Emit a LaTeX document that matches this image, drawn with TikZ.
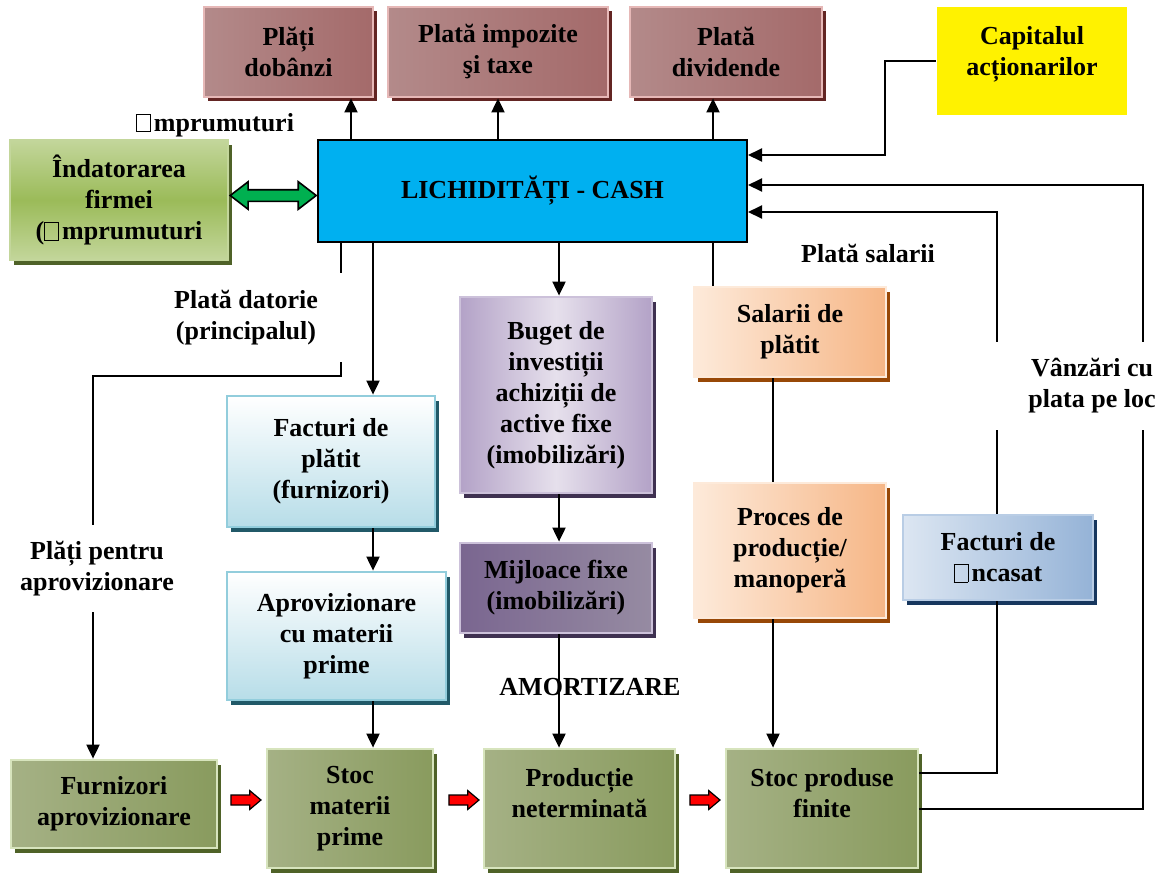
\documentclass[tikz,border=0pt]{standalone}
\usepackage{fontspec}
\setmainfont{Liberation Serif}
\usetikzlibrary{arrows.meta,positioning,calc,shadows,shapes.arrows}

\definecolor{payfill}{HTML}{A46A6A}
\definecolor{paylight}{HTML}{B38A8A}
\definecolor{payedge}{HTML}{E6B8B7}
\definecolor{payshadow}{HTML}{632523}
\definecolor{cashblue}{HTML}{00B0F0}
\definecolor{debtgreen}{HTML}{9BBB59}
\definecolor{debtlight}{HTML}{C3D69B}
\definecolor{greenshadow}{HTML}{4F6228}
\definecolor{stockdark}{HTML}{899B5E}
\definecolor{stocklight}{HTML}{A5B185}
\definecolor{stockedge}{HTML}{D7E4BD}
\definecolor{billblue}{HTML}{B7DDE8}
\definecolor{billedge}{HTML}{92CDDC}
\definecolor{billshadow}{HTML}{215968}
\definecolor{budlight}{HTML}{E6E0EC}
\definecolor{buddark}{HTML}{B3A2C7}
\definecolor{budedge}{HTML}{CCC1DA}
\definecolor{budshadow}{HTML}{3F3151}
\definecolor{assetdark}{HTML}{7A6690}
\definecolor{assetlight}{HTML}{968BA2}
\definecolor{wagelight}{HTML}{FDEADA}
\definecolor{wagedark}{HTML}{F6B686}
\definecolor{wageshadow}{HTML}{984807}
\definecolor{recvdark}{HTML}{95B3D7}
\definecolor{recvlight}{HTML}{DCE6F2}
\definecolor{recvedge}{HTML}{B9CDE5}
\definecolor{recvshadow}{HTML}{17375E}
\definecolor{arrowgreen}{HTML}{00B050}

\newcommand{\boxfont}{\fontsize{13}{15.5}\selectfont\bfseries}
\newcommand{\nochar}{{\setlength{\fboxsep}{0pt}\setlength{\fboxrule}{0.45pt}\fbox{\rule{0pt}{0.64em}\hspace{0.5em}}}\hspace{0.12em}}

\tikzset{
  box/.style={align=center,inner sep=1pt,font=\boxfont,line width=1.4pt},
  paybox/.style={box,draw=payedge,left color=paylight,right color=payfill,
    minimum height=45pt,general shadow={fill=payshadow,shadow xshift=2pt,shadow yshift=-2.2pt}},
  capbox/.style={box,fill=yellow,minimum width=95pt,minimum height=54pt},
  cashbox/.style={box,draw=black,line width=1pt,fill=cashblue,minimum width=214.5pt,minimum height=51pt},
  debtbox/.style={box,draw=debtlight,top color=debtlight,bottom color=debtlight,middle color=debtgreen,
    minimum width=109pt,minimum height=60pt,general shadow={fill=greenshadow,shadow xshift=2pt,shadow yshift=-2.5pt}},
  stockbox/.style={box,draw=stockedge,left color=stocklight,right color=stockdark,
    general shadow={fill=greenshadow,shadow xshift=2pt,shadow yshift=-2.5pt}},
  billbox/.style={box,draw=billedge,top color=white,bottom color=billblue,
    general shadow={fill=billshadow,shadow xshift=2pt,shadow yshift=-2.5pt}},
  budbox/.style={box,draw=budedge,left color=buddark,right color=buddark,middle color=budlight,
    general shadow={fill=budshadow,shadow xshift=2pt,shadow yshift=-2.5pt}},
  assetbox/.style={box,draw=budedge,left color=assetdark,right color=assetlight,
    general shadow={fill=budshadow,shadow xshift=2pt,shadow yshift=-2.5pt}},
  wagebox/.style={box,draw=wagelight,left color=wagelight,right color=wagedark,
    general shadow={fill=wageshadow,shadow xshift=2pt,shadow yshift=-2.5pt}},
  recvbox/.style={box,draw=recvedge,left color=recvlight,right color=recvdark,
    general shadow={fill=recvshadow,shadow xshift=2pt,shadow yshift=-2.5pt}},
  lbl/.style={align=center,inner sep=1pt,font=\boxfont},
  line/.style={line width=1pt},
  arr/.style={line,-{Triangle[width=6.5pt,length=7pt]}},
  dblarrow/.style={double arrow,fill=arrowgreen,draw=black,line width=0.8pt,inner xsep=0pt,inner ysep=2.5pt,
    minimum height=43pt,double arrow head extend=4pt,double arrow tip angle=75},
  redarrow/.style={single arrow,fill=red,draw=black,line width=0.6pt,inner xsep=0pt,inner ysep=2.2pt,
    minimum height=15pt,single arrow head extend=2.2pt,single arrow tip angle=80}
}

\begin{document}
\begin{tikzpicture}[x=0.5pt,y=-0.5pt]
  \path[use as bounding box,fill=white] (0,0) rectangle (1165,873);

  % payments on top
  \node[paybox,minimum width=84.5pt] (dob) at (288.5,52) {Plăți\\dobânzi};
  \node[paybox,minimum width=110pt] (imp) at (498,52) {Plată impozite\\şi taxe};
  \node[paybox,minimum width=96pt] (div) at (726,52) {Plată\\dividende};
  \node[capbox] (cap) at (1032,61) {Capitalul\\acționarilor\\[-5pt]\mbox{}};

  % cash and debt
  \node[cashbox] (cash) at (532.5,191) {LICHIDITĂȚI - CASH};
  \node[debtbox] (indat) at (119,200) {Îndatorarea\\firmei\\(\nochar mprumuturi};
  \node[dblarrow] (link) at ($(indat.east)!.5!(cash.west)$) {};

  % middle column boxes
  \node[billbox,minimum width=104pt,minimum height=65.5pt] (factp) at (331,461.5) {Facturi de\\plătit\\(furnizori)};
  \node[billbox,minimum width=109.5pt,minimum height=64pt] (aprov) at (336.5,636) {Aprovizionare\\cu materii\\prime};
  \node[budbox,minimum width=96pt,minimum height=98pt] (buget) at (556,395) {Buget de\\investiții\\achiziții de\\active fixe\\(imobilizări)};
  \node[assetbox,minimum width=96pt,minimum height=45pt] (mijl) at (556,588) {Mijloace fixe\\(imobilizări)};
  \node[wagebox,minimum width=96pt,minimum height=45pt] (sal) at (790,332) {Salarii de\\plătit};
  \node[wagebox,minimum width=96pt,minimum height=67.5pt] (proc) at (790,550.5) {Proces de\\producție/\\manoperă};
  \node[recvbox,minimum width=95pt,minimum height=42.5pt] (factinc) at (998,557.5) {Facturi de\\\nochar ncasat};

  % stocks at the bottom
  \node[stockbox,minimum width=103pt,minimum height=44pt] (furn) at (114,804) {Furnizori\\aprovizionare};
  \node[stockbox,minimum width=83pt,minimum height=59.5pt] (stocmp) at (350,808.5) {Stoc\\materii\\prime};
  \node[stockbox,minimum width=95.5pt,minimum height=59.5pt] (prod) at (579.5,808.5) {Producție\\neterminată\\\mbox{}};
  \node[stockbox,minimum width=96pt,minimum height=59.5pt] (stocfin) at (822,808.5) {Stoc produse\\finite\\\mbox{}};
  \node[redarrow] (ra1) at (243,800) {};
  \node[redarrow] (ra2) at (461,800) {};
  \node[redarrow] (ra3) at (702,800) {};

  % connectors
  \coordinate (xdob) at (351,0);
  \coordinate (xdiv) at (713,0);
  \coordinate (xbill) at (373,0);
  \coordinate (xinv) at (559,0);
  \coordinate (xwork) at (773,0);
  \coordinate (kcap) at (885,155);
  \coordinate (ksale) at (1143,185);
  \coordinate (krecv) at (997,212);
  \coordinate (kfin) at (997,773);
  \coordinate (kdebt) at (341,376);
  \coordinate (ksupp) at (93,376);

  \draw[arr] (cash.north -| xdob) -- (dob.south -| xdob);
  \draw[arr] (cash.north -| imp.south) -- (imp.south);
  \draw[arr] (cash.north -| xdiv) -- (div.south -| xdiv);
  \draw[arr] (cap.west) -| (kcap) -- (kcap -| cash.east);
  \draw[arr] (stocfin.east) -| (ksale) -- (ksale -| cash.east);
  \draw[line] (stocfin.east |- kfin) -- (kfin) -- (factinc.south -| kfin);
  \draw[arr] (factinc.north -| krecv) -- (krecv) -- (krecv -| cash.east);
  \draw[line] (cash.south -| xdiv) -- (sal.north -| xdiv);
  \draw[line] (sal.south -| xwork) -- (proc.north -| xwork);
  \draw[arr] (proc.south -| xwork) -- (stocfin.north -| xwork);
  \draw[arr] (cash.south -| xinv) -- (buget.north -| xinv);
  \draw[arr] (buget.south -| xinv) -- (mijl.north -| xinv);
  \draw[arr] (mijl.south -| xinv) -- (prod.north -| xinv);
  \draw[arr] (cash.south -| xbill) -- (factp.north -| xbill);
  \draw[arr] (factp.south -| xbill) -- (aprov.north -| xbill);
  \draw[arr] (aprov.south -| xbill) -- (stocmp.north -| xbill);
  \draw[arr] (cash.south -| kdebt) -- (kdebt) -- (ksupp) -- (furn.north -| ksupp);

  % labels
  \node[lbl] (impr) at (215,125) {\nochar mprumuturi};
  \node[lbl,fill=white,minimum width=102pt,minimum height=44.5pt] (datorie) at (246,317.5) {Plată datorie\\(principalul)};
  \node[lbl,fill=white,minimum height=43.5pt] (aprovlbl) at (97,568.5) {Plăți pentru\\aprovizionare};
  \node[lbl] (salarii) at (868,253) {Plată salarii};
  \node[lbl,fill=white,minimum width=100pt,minimum height=44pt] (vanzari) at (1092,386) {Vânzări cu\\plata pe loc};
  \node[lbl] (amort) at (590,687) {AMORTIZARE};
\end{tikzpicture}
\end{document}
